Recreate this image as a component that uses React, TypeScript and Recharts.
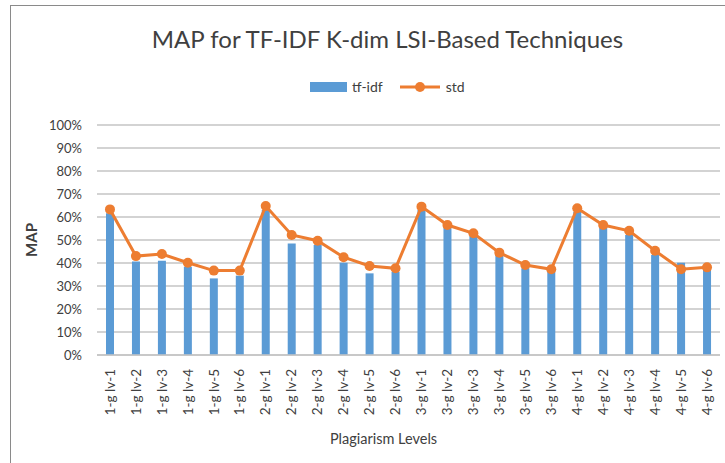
import { Bar, CartesianGrid, ComposedChart, Line, XAxis, YAxis } from "recharts"

const levels = [
  "1-g lv-1", "1-g lv-2", "1-g lv-3", "1-g lv-4", "1-g lv-5", "1-g lv-6",
  "2-g lv-1", "2-g lv-2", "2-g lv-3", "2-g lv-4", "2-g lv-5", "2-g lv-6",
  "3-g lv-1", "3-g lv-2", "3-g lv-3", "3-g lv-4", "3-g lv-5", "3-g lv-6",
  "4-g lv-1", "4-g lv-2", "4-g lv-3", "4-g lv-4", "4-g lv-5", "4-g lv-6",
]

const tfIdf = [
  0.616, 0.406, 0.41, 0.384, 0.333, 0.345,
  0.63, 0.485, 0.478, 0.401, 0.355, 0.362,
  0.63, 0.558, 0.517, 0.435, 0.377, 0.362,
  0.623, 0.558, 0.522, 0.435, 0.401, 0.37,
]

const std = [
  0.633, 0.43, 0.439, 0.401, 0.367, 0.367,
  0.648, 0.522, 0.497, 0.425, 0.387, 0.377,
  0.645, 0.565, 0.529, 0.445, 0.391, 0.373,
  0.638, 0.565, 0.54, 0.453, 0.373, 0.381,
]

const yTicks = [0, 0.1, 0.2, 0.3, 0.4, 0.5, 0.6, 0.7, 0.8, 0.9, 1]

const data = levels.map((name, i) => ({ name, tfIdf: tfIdf[i], std: std[i] }))

const font = "Lato, 'Open Sans', sans-serif"
const textColor = "#404040"

function LevelTick({ x, y, payload }: any) {
  const ty = y + 6
  return (
    <text
      x={x}
      y={ty}
      transform={`rotate(-90, ${x}, ${ty})`}
      textAnchor="end"
      dy="0.35em"
      fontSize={13.5}
      fontFamily={font}
      fill={textColor}
    >
      {payload.value}
    </text>
  )
}

export default function App() {
  return (
    <div
      style={{
        position: "absolute",
        left: 0,
        top: 0,
        width: 725,
        height: 463,
        overflow: "hidden",
        background: "#fff",
        fontFamily: font,
      }}
    >
      <div
        style={{
          position: "absolute",
          left: 10,
          top: 5,
          width: 760,
          height: 500,
          border: "1.5px solid #8a8a8a",
        }}
      />
      <div
        style={{
          position: "absolute",
          left: 0,
          width: 775,
          top: 24,
          textAlign: "center",
          fontSize: 24,
          color: textColor,
          whiteSpace: "nowrap",
        }}
      >
        MAP for TF-IDF K-dim LSI-Based Techniques
      </div>
      <div
        style={{
          position: "absolute",
          left: 310,
          top: 78,
          display: "flex",
          alignItems: "center",
          fontSize: 14,
          color: textColor,
          lineHeight: "18px",
        }}
      >
        <span style={{ display: "inline-block", width: 37, height: 10, background: "#5b9bd5", marginRight: 5 }} />
        <span>tf-idf</span>
        <svg width={42} height={14} style={{ marginLeft: 17, marginRight: 4 }}>
          <line x1={0} y1={7} x2={40} y2={7} stroke="#ed7d31" strokeWidth={3} />
          <circle cx={20} cy={7} r={5} fill="#ed7d31" />
        </svg>
        <span>std</span>
      </div>
      <div
        style={{
          position: "absolute",
          left: 31,
          top: 240,
          transform: "translate(-50%, -50%) rotate(-90deg)",
          fontSize: 15,
          fontWeight: 700,
          color: textColor,
        }}
      >
        MAP
      </div>
      <ComposedChart
        width={725}
        height={463}
        data={data}
        margin={{ top: 125, right: 5, bottom: 13, left: 20 }}
        style={{ position: "absolute", left: 0, top: 0 }}
      >
        <CartesianGrid vertical={false} stroke="#c4c4c4" strokeWidth={1.5} />
        <XAxis
          dataKey="name"
          interval={0}
          height={95}
          tickLine={false}
          axisLine={{ stroke: "#c4c4c4", strokeWidth: 1.5 }}
          tick={<LevelTick />}
          label={{
            value: "Plagiarism Levels",
            position: "insideBottom",
            offset: 6,
            dx: -25,
            fontSize: 14.5,
            fontFamily: font,
            fill: textColor,
          }}
        />
        <YAxis
          width={77}
          domain={[0, 1]}
          ticks={yTicks}
          interval={0}
          tickLine={false}
          axisLine={false}
          tickMargin={9}
          tickFormatter={(v: number) => `${Math.round(v * 100)}%`}
          tick={{ fontSize: 13, fontFamily: font, fill: textColor }}
        />
        <Bar dataKey="tfIdf" name="tf-idf" fill="#5b9bd5" barSize={8} isAnimationActive={false} />
        <Line
          dataKey="std"
          name="std"
          stroke="#ed7d31"
          strokeWidth={3}
          dot={{ r: 5, fill: "#ed7d31", stroke: "none" }}
          activeDot={false}
          isAnimationActive={false}
        />
      </ComposedChart>
    </div>
  )
}
